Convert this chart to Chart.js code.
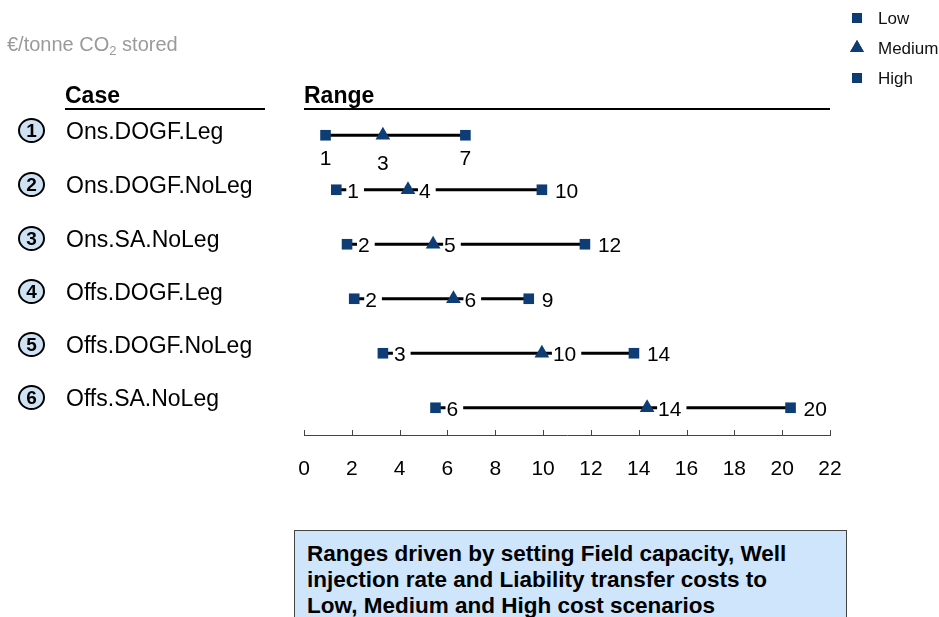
<!DOCTYPE html>
<html>
<head>
<meta charset="utf-8">
<script src="https://cdn.jsdelivr.net/npm/chart.js@4.4.1/dist/chart.umd.min.js"></script>
<style>
html,body{margin:0;padding:0;background:#fff;}
#wrap{position:relative;width:939px;height:617px;overflow:hidden;font-family:"Liberation Sans",Arial,sans-serif;color:#000;}
#c{position:absolute;left:0;top:0;}
.unit{position:absolute;left:7px;top:33px;font-size:20px;color:#9a9a9a;white-space:nowrap;}
.unit sub{font-size:13px;vertical-align:-4px;line-height:0;}
.hdr{position:absolute;top:82px;font-size:23px;font-weight:bold;border-bottom:2px solid #000;padding-bottom:0;line-height:26px;}
.case{position:absolute;left:66px;font-size:23px;line-height:26px;white-space:nowrap;}
.num{position:absolute;left:18px;width:23px;height:21px;border:2.5px solid #000;border-radius:50%;background:#cfe2f3;font-weight:bold;font-size:19px;line-height:21px;text-align:center;}
.note{position:absolute;left:294px;top:530px;width:537px;height:110px;background:#cfe5fb;border:1.5px solid #444;font-weight:bold;font-size:22.5px;line-height:26px;padding:10px 0 0 12px;box-sizing:border-box;width:553px;}
</style>
</head>
<body>
<div id="wrap">
<canvas id="c" width="939" height="617"></canvas>
<div class="unit">€/tonne CO<sub>2</sub> stored</div>
<div class="hdr" style="left:65px;width:200px;">Case</div>
<div class="hdr" style="left:304px;width:526px;">Range</div>
<div id="cases"></div>
<div class="note">Ranges driven by setting Field capacity, Well<br>injection rate and Liability transfer costs to<br>Low, Medium and High cost scenarios</div>
</div>
<script>
// ---- data ----
const cases = ['Ons.DOGF.Leg','Ons.DOGF.NoLeg','Ons.SA.NoLeg','Offs.DOGF.Leg','Offs.DOGF.NoLeg','Offs.SA.NoLeg'];
const lowValues    = [0.9, 1.35, 1.8, 2.1, 3.3, 5.5];
const mediumValues = [3.3, 4.35, 5.4, 6.25, 9.95, 14.35];
const highValues   = [6.75, 9.95, 11.75, 9.4, 13.8, 20.35];
const xTickValues  = [0,2,4,6,8,10,12,14,16,18,20,22];
const seriesNames  = ['Low','Medium','High'];

const NAVY = '#0d3d74';
const FONT = '"Liberation Sans", Arial, sans-serif';

// case labels (HTML text)
const caseTops = [131,185,239,292,345,398];
const casesDiv = document.getElementById('cases');
cases.forEach((c,i)=>{
  const n = document.createElement('div');
  n.className='num'; n.style.top=(caseTops[i]-13)+'px'; n.textContent=String(i+1);
  casesDiv.appendChild(n);
  const t = document.createElement('div');
  t.className='case'; t.style.top=(caseTops[i]-13)+'px'; t.textContent=c;
  casesDiv.appendChild(t);
});

const rowY = cases.map((c,i)=>i+1);
const pts = arr => arr.map((v,i)=>({x:v,y:rowY[i]}));

const rangeDatasets = cases.map((c,i)=>({
  type:'line', label:'range'+i,
  data:[{x:lowValues[i],y:rowY[i]},{x:highValues[i],y:rowY[i]}],
  borderColor:'#000', borderWidth:3, pointRadius:0, showLine:true, order:5
}));
const markerDatasets = [
  {type:'scatter',label:'Low',data:pts(lowValues),pointStyle:'rect',pointRadius:7.5,backgroundColor:NAVY,borderColor:NAVY,borderWidth:0,order:1},
  {type:'scatter',label:'Medium',data:pts(mediumValues),pointStyle:'triangle',pointRadius:8.5,backgroundColor:NAVY,borderColor:NAVY,borderWidth:0,order:1},
  {type:'scatter',label:'High',data:pts(highValues),pointStyle:'rect',pointRadius:7.5,backgroundColor:NAVY,borderColor:NAVY,borderWidth:0,order:1}
];

const labelPlugin = {
  id:'valueLabels',
  afterDatasetsDraw(chart){
    const ctx = chart.ctx;
    ctx.save();
    ctx.font = '21px '+FONT;
    ctx.fillStyle = '#000';
    chart.data.datasets.forEach((ds,di)=>{
      const k = seriesNames.indexOf(ds.label);
      if(k<0) return;
      const meta = chart.getDatasetMeta(di);
      meta.data.forEach((el,j)=>{
        const txt = String(Math.round(ds.data[j].x));
        const w = ctx.measureText(txt).width;
        if(j===0){
          ctx.textAlign='center'; ctx.textBaseline='middle';
          ctx.fillText(txt, el.x, el.y + (k===1?29:24));
        } else {
          const tx = el.x + (k===2?13:11);
          if(k<2){
            ctx.fillStyle='#fff';
            ctx.fillRect(tx-1, el.y-9, w+6, 18);
            ctx.fillStyle='#000';
          }
          ctx.textAlign='left'; ctx.textBaseline='middle';
          ctx.fillText(txt, tx, el.y+2);
        }
      });
    });
    ctx.restore();
  }
};

const axisPlugin = {
  id:'axisTicks',
  afterDraw(chart){
    const ctx = chart.ctx, xs = chart.scales.x, b = chart.chartArea.bottom;
    ctx.save();
    ctx.strokeStyle='#444'; ctx.lineWidth=1;
    xs.ticks.forEach(t=>{
      const px = Math.round(xs.getPixelForValue(t.value))+0.5;
      ctx.beginPath(); ctx.moveTo(px,b-5); ctx.lineTo(px,b+0.5); ctx.stroke();
    });
    // legend
    const items = markerDatasets;
    ctx.font='17px '+FONT; ctx.textBaseline='middle'; ctx.textAlign='left';
    items.forEach((ds,i)=>{
      const y = 18 + i*30;
      Chart.helpers.drawPoint(ctx,{pointStyle:ds.pointStyle,radius:ds.pointStyle==='triangle'?8:7,borderWidth:0},857,y);
      ctx.fillStyle=NAVY; ctx.fill();
      ctx.fillStyle='#111';
      ctx.fillText(ds.label, 878, y+1);
    });
    ctx.restore();
  }
};

new Chart(document.getElementById('c'),{
  type:'scatter',
  data:{datasets:[...rangeDatasets,...markerDatasets]},
  options:{
    responsive:false, animation:false, devicePixelRatio:1,
    layout:{padding:{left:304,right:109,top:108,bottom:122}},
    plugins:{legend:{display:false},tooltip:{enabled:false}},
    scales:{
      x:{type:'linear',min:0,max:22,
        afterBuildTicks:s=>{s.ticks = xTickValues.map(v=>({value:v}));},
        afterFit:s=>{s.height=60;},
        grid:{display:true,drawOnChartArea:false,drawTicks:false},
        border:{display:true,color:'#444',width:1},
        ticks:{padding:22,color:'#000',autoSkip:false,maxRotation:0,font:{size:21,family:FONT}}
      },
      y:{type:'linear',min:0.5,max:6.5,reverse:true,display:false}
    }
  },
  plugins:[labelPlugin,axisPlugin]
});
</script>
</body>
</html>
